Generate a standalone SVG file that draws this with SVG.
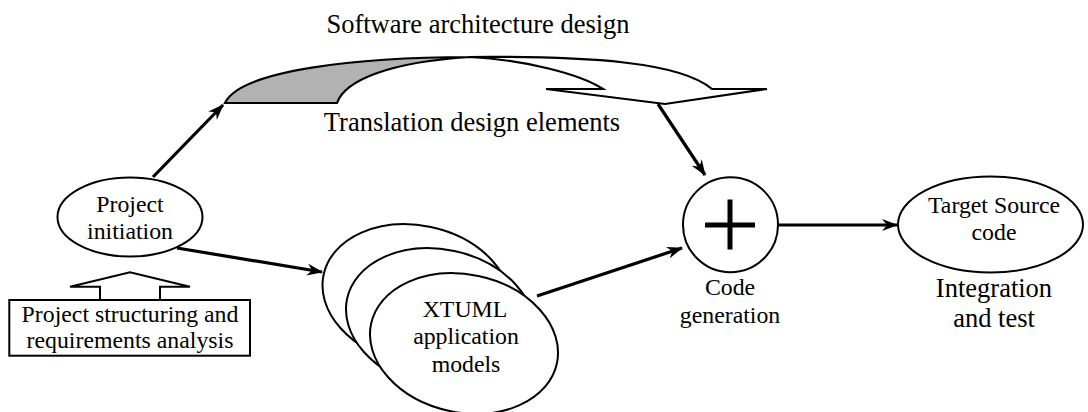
<svg xmlns="http://www.w3.org/2000/svg" width="1088" height="412" viewBox="0 0 1088 412">
<style>
text{fill:#000;text-anchor:middle;font-family:"Liberation Serif","Times New Roman",serif}
.t24{font-size:23.8px}
.t26{font-size:26.5px}
.shape{fill:#fff;stroke:#000;stroke-width:2}
.conn{fill:none;stroke:#000;stroke-width:3.2;marker-end:url(#ah)}
.outline{fill:none;stroke:#000;stroke-width:2.2;stroke-linejoin:miter}
</style>
<defs>
<marker id="ah" markerUnits="userSpaceOnUse" markerWidth="17" markerHeight="12" refX="15" refY="6" orient="auto">
<path d="M0,0 L16,6 L0,12 L5,6 Z" fill="#000"/>
</marker>
</defs>
<rect width="1088" height="412" fill="#fff"/>

<g id="software-architecture">
<path d="M225,103 C240,70 360,57 470,57 C390,62 345,80 337,103 Z" fill="#b2b2b2"/>
<path class="outline" d="M225,103 C240,70 360,57 470,57 C590,56 680,62 712,89 L767,89 L665,104 L546,89 L603,89 C580,74 525,60 470,57 C390,62 345,80 337,103 Z"/>
<text class="t26" x="478" y="33">Software architecture design</text>
<text class="t26" x="472" y="131">Translation design elements</text>
</g>

<g id="project-initiation">
<ellipse class="shape" cx="130" cy="217" rx="72.5" ry="39.5"/>
<text class="t24" x="130" y="211.5">Project</text>
<text class="t24" x="130" y="239">initiation</text>
</g>

<g id="project-structuring">
<polygon class="shape" points="100,300 100,286.7 70,286.7 130,272.3 190,286.7 160,286.7 160,300"/>
<rect class="shape" x="9.3" y="300" width="240.7" height="55.7"/>
<text class="t24" x="130" y="321.5">Project structuring and</text>
<text class="t24" x="130" y="348">requirements analysis</text>
</g>

<g id="xtuml-models">
<ellipse class="shape" cx="416.5" cy="294.5" rx="95" ry="69" transform="rotate(12 416.5 294.5)"/>
<ellipse class="shape" cx="440" cy="318.5" rx="95" ry="69" transform="rotate(12 440 318.5)"/>
<ellipse class="shape" cx="464" cy="343.5" rx="95" ry="69" transform="rotate(12 464 343.5)"/>
<text class="t24" x="465" y="317">XTUML</text>
<text class="t24" x="466" y="344">application</text>
<text class="t24" x="466" y="371.5">models</text>
</g>

<g id="code-generation">
<circle class="shape" cx="730.5" cy="224.7" r="47.5"/>
<rect x="705" y="222.5" width="50" height="5" fill="#000"/>
<rect x="727.5" y="199.5" width="5" height="50" fill="#000"/>
<text class="t24" x="730" y="295">Code</text>
<text class="t24" x="730" y="323">generation</text>
</g>

<g id="target-source">
<ellipse class="shape" cx="990.5" cy="224.5" rx="92.5" ry="48"/>
<text class="t24" x="994" y="213">Target Source</text>
<text class="t24" x="994" y="240">code</text>
<text class="t26" x="994" y="296.5">Integration</text>
<text class="t26" x="994" y="326.5">and test</text>
</g>

<g id="connectors">
<path class="conn" d="M153,177 L223,105"/>
<path class="conn" d="M177,248 L322,272"/>
<path class="conn" d="M658,104 L705,175"/>
<path class="conn" d="M537,296 L682,248"/>
<path class="conn" d="M778,225 L897,225"/>
</g>
</svg>
